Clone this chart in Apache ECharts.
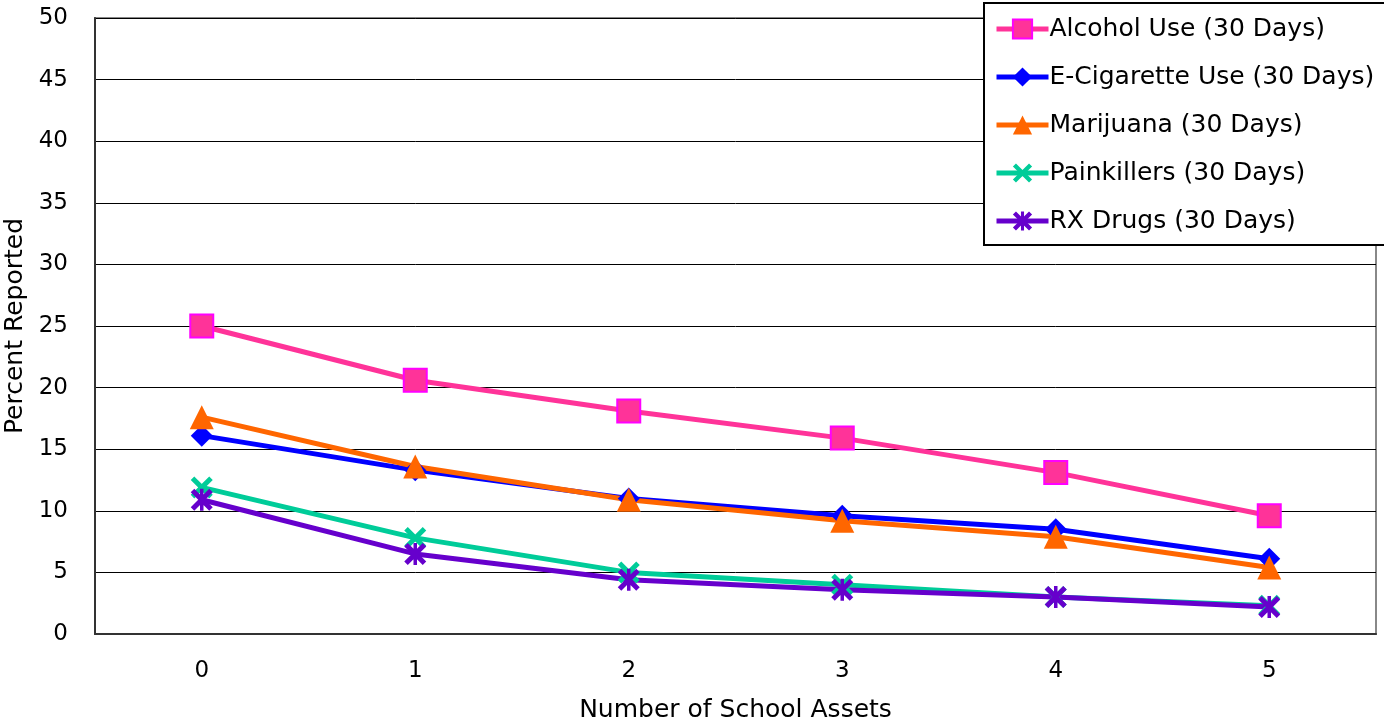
<!DOCTYPE html>
<html>
<head>
<meta charset="utf-8">
<script src="https://cdn.jsdelivr.net/npm/echarts@6/dist/echarts.min.js"></script>
<style>
html,body{margin:0;padding:0;background:#fff;}
#chart{width:1384px;height:721px;}
</style>
</head>
<body>
<div id="chart"></div>
<script>
const categories = ['0', '1', '2', '3', '4', '5'];
const seriesNames = ['Alcohol Use (30 Days)', 'E-Cigarette Use (30 Days)', 'Marijuana (30 Days)', 'Painkillers (30 Days)', 'RX Drugs (30 Days)'];
const alcohol = [25.0, 20.6, 18.1, 15.9, 13.1, 9.6];
const ecig = [16.1, 13.3, 11.0, 9.6, 8.5, 6.1];
const marijuana = [17.6, 13.6, 10.9, 9.2, 7.9, 5.4];
const painkillers = [11.9, 7.8, 5.0, 4.0, 3.0, 2.3];
const rxDrugs = [10.9, 6.5, 4.4, 3.6, 3.0, 2.2];
const yTicks = { min: 0, max: 50, interval: 5 };

const FONT = 'DejaVu Sans';
const xPath = 'path://M0,1.6L1.6,0L10,8.4L8.4,10Z M8.4,0L10,1.6L1.6,10L0,8.4Z';
const starPath = 'path://M0,1.6L1.6,0L10,8.4L8.4,10Z M8.4,0L10,1.6L1.6,10L0,8.4Z M4.2,0L5.8,0L5.8,10L4.2,10Z';

function mk(name, data, color, symbol, size, border) {
  return {
    name: name, type: 'line', data: data,
    symbol: symbol, symbolSize: size,
    lineStyle: { color: color, width: 5 },
    itemStyle: { color: color, borderColor: border || color, borderWidth: border ? 2 : 0 },
    emphasis: { disabled: true },
    animation: false
  };
}

const chart = echarts.init(document.getElementById('chart'));
chart.setOption({
  backgroundColor: '#fff',
  animation: false,
  textStyle: { fontFamily: FONT },
  grid: { left: 95, right: 8, top: 18, bottom: 87, containLabel: false, outerBoundsMode: 'none',
          show: true, borderColor: '#888', borderWidth: 2, backgroundColor: 'transparent' },
  legend: {
    orient: 'vertical', left: 984, top: 3,
    padding: [12, 60, 10, 10],
    itemWidth: 52, itemHeight: 24, itemGap: 20,
    backgroundColor: '#fff', borderColor: '#000', borderWidth: 2,
    lineStyle: { width: 5 },
    textStyle: { fontFamily: FONT, fontSize: 25, lineHeight: 28, color: '#000', padding: [0, 0, 0, -4] },
    data: seriesNames
  },
  xAxis: {
    type: 'category', data: categories, boundaryGap: true,
    axisLine: { show: true, lineStyle: { color: '#333', width: 2 } },
    axisTick: { show: false },
    axisLabel: { color: '#000', fontSize: 23, margin: 26, fontFamily: FONT },
    name: 'Number of School Assets', nameLocation: 'middle', nameGap: 64,
    nameTextStyle: { color: '#000', fontSize: 25, fontFamily: FONT }
  },
  yAxis: {
    type: 'value', min: yTicks.min, max: yTicks.max, interval: yTicks.interval,
    axisLine: { show: true, lineStyle: { color: '#333', width: 2 } },
    axisTick: { show: false },
    axisLabel: { color: '#000', fontSize: 23, margin: 27, fontFamily: FONT },
    splitLine: { show: true, lineStyle: { color: '#000', width: 1 } },
    name: 'Percent Reported', nameLocation: 'middle', nameGap: 54, nameRotate: 90,
    nameTextStyle: { color: '#000', fontSize: 25, fontFamily: FONT }
  },
  series: [
    mk(seriesNames[0], alcohol, '#ff3399', 'rect', 23, '#ff00ff'),
    mk(seriesNames[1], ecig, '#0000ff', 'diamond', 22),
    mk(seriesNames[2], marijuana, '#ff6600', 'triangle', 24),
    mk(seriesNames[3], painkillers, '#00cc99', xPath, 22),
    mk(seriesNames[4], rxDrugs, '#6600cc', starPath, 22)
  ]
});
</script>
</body>
</html>
